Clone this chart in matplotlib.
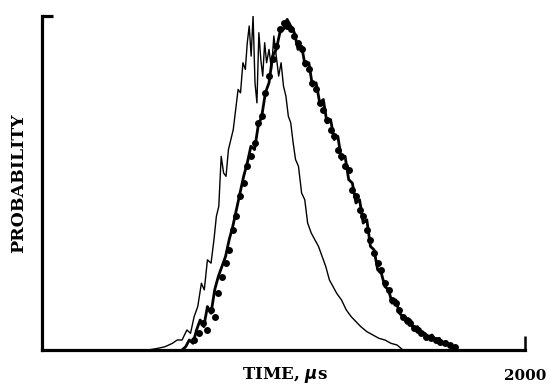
import numpy as np
import matplotlib
matplotlib.use("Agg")
from matplotlib import pyplot as plt

# fast distribution (thin line)
fast_t = [440, 480, 510, 540, 560, 580, 600, 615, 630, 645, 660, 672, 685, 700, 712, 722, 732, 742, 752, 762,
          772, 782, 792, 802, 812, 822, 832, 842, 850, 858, 866, 874, 882, 890, 898, 906, 914, 922, 930, 940,
          950, 960, 970, 980, 990, 1000, 1010, 1020, 1030, 1040, 1050, 1062, 1075, 1088, 1100, 1115, 1130, 1145, 1160, 1175,
          1190, 1205, 1220, 1240, 1260, 1280, 1300, 1320, 1345, 1370, 1395, 1420, 1445, 1470, 1495]
fast_p = [0.0, 0.005, 0.01, 0.02, 0.03, 0.03, 0.06, 0.05, 0.10, 0.13, 0.20, 0.18, 0.27, 0.26, 0.33, 0.40, 0.43, 0.58, 0.53, 0.52,
          0.60, 0.63, 0.66, 0.72, 0.78, 0.77, 0.86, 0.84, 0.92, 0.97, 0.88, 1.0, 0.80, 0.74, 0.95, 0.87, 0.82, 0.92, 0.86, 0.90,
          0.84, 0.94, 0.88, 0.82, 0.86, 0.79, 0.76, 0.70, 0.68, 0.62, 0.57, 0.55, 0.47, 0.45, 0.38, 0.35, 0.33, 0.31, 0.28, 0.25,
          0.21, 0.19, 0.17, 0.15, 0.12, 0.10, 0.085, 0.07, 0.055, 0.045, 0.035, 0.03, 0.02, 0.015, 0.0]

# slow distribution (heavy line)
slow_t = [580, 595, 610, 625, 640, 655, 670, 685, 700, 715, 730, 745, 760, 775, 790, 805, 820, 835, 850, 865,
          880, 895, 910, 925, 940, 955, 970, 985, 1000, 1015, 1030, 1045, 1060, 1075, 1090, 1105, 1120, 1135, 1150, 1165,
          1180, 1195, 1210, 1225, 1240, 1255, 1270, 1285, 1300, 1315, 1330, 1345, 1360, 1375, 1390, 1405, 1420, 1435, 1450, 1465,
          1480, 1495, 1510, 1525, 1540, 1555, 1570, 1585, 1600, 1615, 1630, 1645, 1660, 1675, 1690, 1705, 1720]
slow_p = [0.0, 0.01, 0.03, 0.02, 0.06, 0.09, 0.07, 0.13, 0.11, 0.18, 0.22, 0.25, 0.28, 0.33, 0.37, 0.42, 0.47, 0.52, 0.56, 0.61,
          0.60, 0.67, 0.70, 0.77, 0.80, 0.88, 0.90, 0.95, 0.96, 0.99, 0.97, 0.95, 0.90, 0.91, 0.85, 0.86, 0.79, 0.80, 0.74, 0.75,
          0.68, 0.69, 0.63, 0.64, 0.57, 0.58, 0.51, 0.50, 0.44, 0.45, 0.38, 0.39, 0.31, 0.30, 0.24, 0.23, 0.19, 0.18, 0.14, 0.15,
          0.11, 0.10, 0.08, 0.09, 0.06, 0.07, 0.05, 0.05, 0.04, 0.045, 0.03, 0.035, 0.02, 0.025, 0.01, 0.005, 0.0]

# measured points (dots)
dot_t = [630, 650, 668, 685, 700, 715, 730, 745, 760, 775, 790, 805, 820, 835, 850, 865, 880, 895, 910, 925,
         940, 955, 970, 985, 1000, 1015, 1030, 1045, 1060, 1075, 1090, 1105, 1120, 1135, 1150, 1165, 1180, 1195, 1210, 1225,
         1240, 1255, 1270, 1285, 1300, 1315, 1330, 1345, 1360, 1375, 1390, 1405, 1420, 1435, 1450, 1465, 1480, 1495, 1510, 1525,
         1540, 1555, 1570, 1590, 1610, 1630, 1650, 1670, 1690, 1710]
dot_p = [0.03, 0.05, 0.08, 0.06, 0.12, 0.10, 0.17, 0.22, 0.26, 0.30, 0.36, 0.40, 0.46, 0.50, 0.55, 0.58, 0.62, 0.68, 0.70, 0.77,
         0.82, 0.87, 0.91, 0.96, 0.98, 0.97, 0.96, 0.94, 0.92, 0.90, 0.86, 0.84, 0.80, 0.78, 0.74, 0.72, 0.69, 0.66, 0.64, 0.60,
         0.58, 0.55, 0.54, 0.48, 0.46, 0.42, 0.40, 0.36, 0.33, 0.29, 0.26, 0.24, 0.20, 0.18, 0.15, 0.14, 0.12, 0.10, 0.09, 0.08,
         0.065, 0.06, 0.05, 0.04, 0.035, 0.03, 0.025, 0.02, 0.015, 0.01]

plt.rcParams['font.family'] = 'DejaVu Serif'
plt.rcParams['font.weight'] = 'bold'

fig = plt.figure(figsize=(5.5, 3.85), dpi=100)
ax = fig.add_axes([42 / 550, 35 / 385, 483 / 550, 334 / 385])

ax.plot(fast_t, fast_p, color='black', lw=1.0)
ax.plot(slow_t, slow_p, color='black', lw=2.0)
ax.plot(dot_t, dot_p, 'o', color='black', ms=5, mew=0)

ax.set_xlim(0, 2000)
ax.set_ylim(0, 1.0)

ax.spines['top'].set_visible(False)
ax.spines['right'].set_visible(False)
ax.spines['left'].set_linewidth(2.3)
ax.spines['bottom'].set_linewidth(2.3)

ax.set_xticks([2000])
ax.set_xticklabels(['2000'], fontsize=11, fontweight='bold')
ax.set_yticks([1.0])
ax.set_yticklabels([''])
ax.tick_params(axis='x', direction='in', length=10, width=1.8, pad=14)
ax.tick_params(axis='y', direction='in', length=8, width=2.3)

ax.set_xlabel('TIME, $\\mu$s', fontsize=12, fontweight='bold', va='center')
ax.xaxis.set_label_coords(243 / 483, -25 / 334)
ax.set_ylabel('PROBABILITY', fontsize=12.5, fontweight='bold', va='center')
ax.yaxis.set_label_coords(-23 / 483, 0.5)

fig.savefig('out.png', dpi=100)
